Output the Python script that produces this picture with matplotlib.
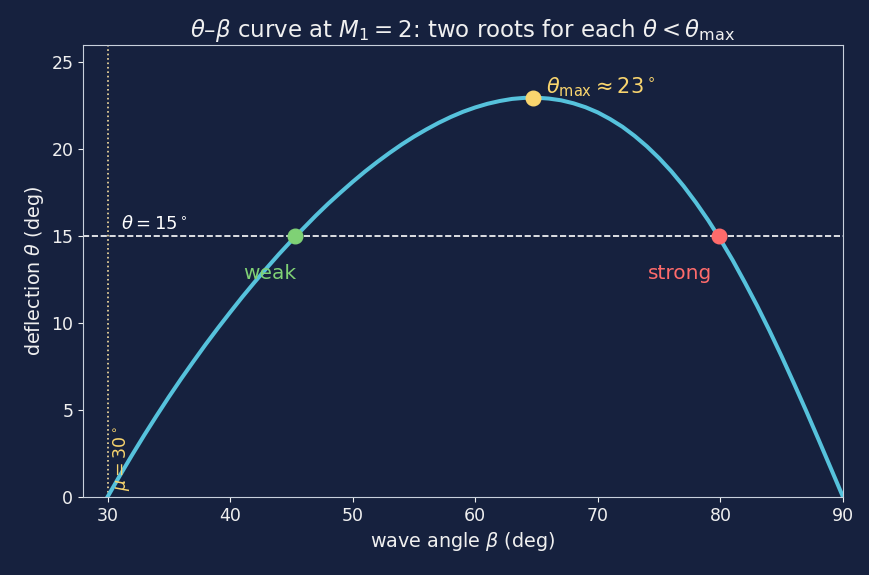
import numpy as np
import matplotlib.pyplot as plt

# wave angle beta (deg) and deflection theta (deg)
beta = [30, 31, 32, 33, 34, 35, 36, 37, 38, 39, 40, 41, 42, 43, 44, 45,
        46, 47, 48, 49, 50, 51, 52, 53, 54, 55, 56, 57, 58, 59, 60,
        61, 62, 63, 64, 65, 66, 67, 68, 69, 70, 71, 72, 73, 74, 75,
        76, 77, 78, 79, 80, 81, 82, 83, 84, 85, 86, 87, 88, 89, 90]
theta = [0.0, 1.22, 2.41, 3.56, 4.67, 5.75, 6.79, 7.79, 8.77, 9.71, 10.62,
         11.51, 12.36, 13.18, 13.98, 14.74, 15.47, 16.19, 16.87, 17.51, 18.13,
         18.72, 19.27, 19.79, 20.28, 20.73, 21.14, 21.52, 21.86, 22.16, 22.41,
         22.62, 22.78, 22.90, 22.96, 22.97, 22.92, 22.82, 22.65, 22.42, 22.12,
         21.74, 21.30, 20.77, 20.17, 19.49, 18.73, 17.88, 16.94, 15.92, 14.81,
         13.62, 12.33, 10.99, 9.57, 8.08, 6.53, 4.94, 3.31, 1.66, 0.0]

theta_line = 15
mu = 30
weak = (45.3, 15)
strong = (79.9, 15)
peak = (64.7, 22.97)

bg = '#16213e'
fg = '#f0f0f0'

fig = plt.figure(figsize=(8.69, 5.75), dpi=100)
fig.patch.set_facecolor(bg)
ax = fig.add_axes([0.0955, 0.1357, 0.8746, 0.786])
ax.set_facecolor(bg)

ax.plot(beta, theta, color='#56c2dc', lw=2.9, zorder=3, solid_joinstyle='round')
ax.axhline(theta_line, color='white', lw=1.2, ls='--', zorder=2)
ax.axvline(mu, color='#f9e0a0', lw=1.2, ls=':', zorder=2)

ax.plot(*weak, 'o', color='#7fd175', ms=10.5, zorder=4)
ax.plot(*strong, 'o', color='#ff6b6b', ms=10.5, zorder=4)
ax.plot(*peak, 'o', color='#f9d56e', ms=10.5, zorder=4)

ax.text(31.1, 15.4, r'$\theta = 15^\circ$', color='white', fontsize=13)
ax.text(43.2, 12.55, 'weak', color='#7fd175', fontsize=14.5, ha='center')
ax.text(76.7, 12.55, 'strong', color='#ff6b6b', fontsize=14.5, ha='center')
ax.text(65.75, 23.2, r'$\theta_{\max} \approx 23^\circ$', color='#f9d56e', fontsize=15)
ax.text(30.3, 0.7, r'$\mu = 30^\circ$', color='#f9d56e', fontsize=12.5, rotation=90)

ax.set_xlim(28, 90)
ax.set_ylim(0, 26)
ax.set_xticks([30, 40, 50, 60, 70, 80, 90])
ax.set_yticks([0, 5, 10, 15, 20, 25])
ax.set_xlabel(r'wave angle $\beta$ (deg)', color=fg, fontsize=13.8)
ax.set_ylabel(r'deflection $\theta$ (deg)', color=fg, fontsize=13.8)
ax.set_title(r'$\theta$–$\beta$ curve at $M_1 = 2$: two roots for each $\theta < \theta_{\max}$',
             color=fg, fontsize=16.5)
ax.tick_params(colors=fg, labelsize=12.5)
for s in ax.spines.values():
    s.set_color('#c8d0dc')

fig.savefig('out.png', dpi=100, facecolor=bg)
